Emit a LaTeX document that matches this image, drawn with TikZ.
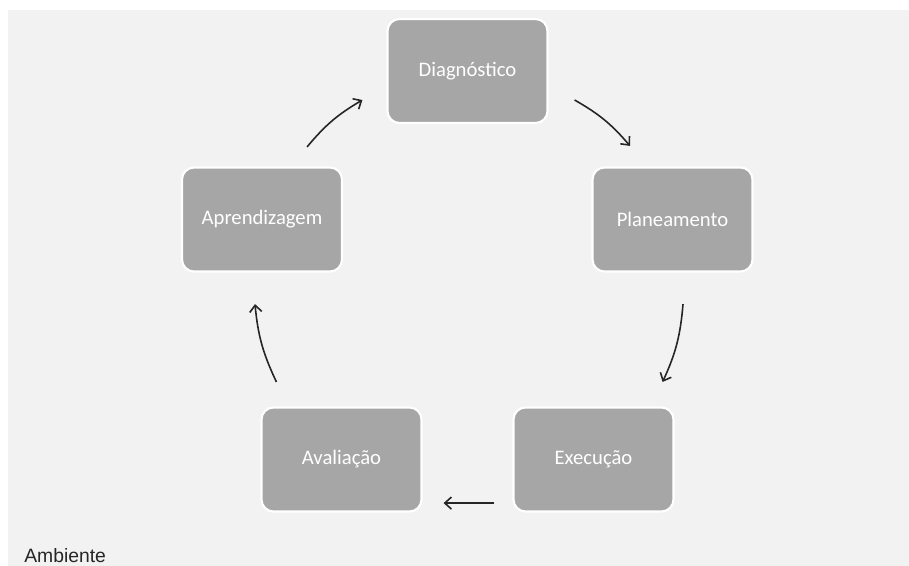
\documentclass[tikz,border=0pt]{standalone}
\usepackage{fontspec}
\usetikzlibrary{arrows.meta,calc}
\newfontfamily\stagefont{Carlito}
\newfontfamily\labelfont{Liberation Sans}
\definecolor{panel}{HTML}{F2F2F2}
\definecolor{stagegray}{HTML}{A6A6A6}
\definecolor{ink}{HTML}{262626}
\begin{document}
\begin{tikzpicture}[x=0.75pt,y=-0.75pt]
	\tikzset{stage/.style={draw=white,fill=stagegray,line width=1.6pt,rounded corners=9pt,minimum width=120pt,minimum height=78pt,text=white,font=\stagefont\fontsize{15.5}{18}\selectfont},
		flow/.style={-{Straight Barb[length=5pt,width=9pt]},line width=1.2pt,draw=ink}}
	\useasboundingbox (0,0) rectangle (909,566);
	\fill[panel] (8,10) rectangle (909,566);
	\node[stage] (diag) at (467.5,71)   {Diagnóstico};
	\node[stage] (plan) at (672.5,219.5) {Planeamento};
	\node[stage] (exec) at (593.5,459.5) {Execução};
	\node[stage] (aval) at (341.5,459.5) {Avaliação};
	\node[stage] (apre) at (262,219.5)   {Aprendizagem};
	\node[anchor=base west,inner sep=0pt,text=ink,font=\labelfont\fontsize{14.5}{17}\selectfont] (amb) at (24,562) {Ambiente};
	\draw[flow] ($(diag.east)+(26,29)$) to[bend left=10] ($(plan.north)+(-42.5,-20.5)$);
	\draw[flow] ($(plan.south)+(10.5,31.5)$) to[bend left=10] ($(exec.north east)+(-12,-24.5)$);
	\draw[flow] ($(exec.south west)+(-18,-9.5)$) -- ($(aval.south east)+(21,-9.5)$);
	\draw[flow] ($(aval.north west)+(16,-24.5)$) to[bend left=10] ($(apre.south)+(-7,31.5)$);
	\draw[flow] ($(apre.north east)+(-36,-19.5)$) to[bend left=10] ($(diag.west)+(-24,29)$);
\end{tikzpicture}
\end{document}
